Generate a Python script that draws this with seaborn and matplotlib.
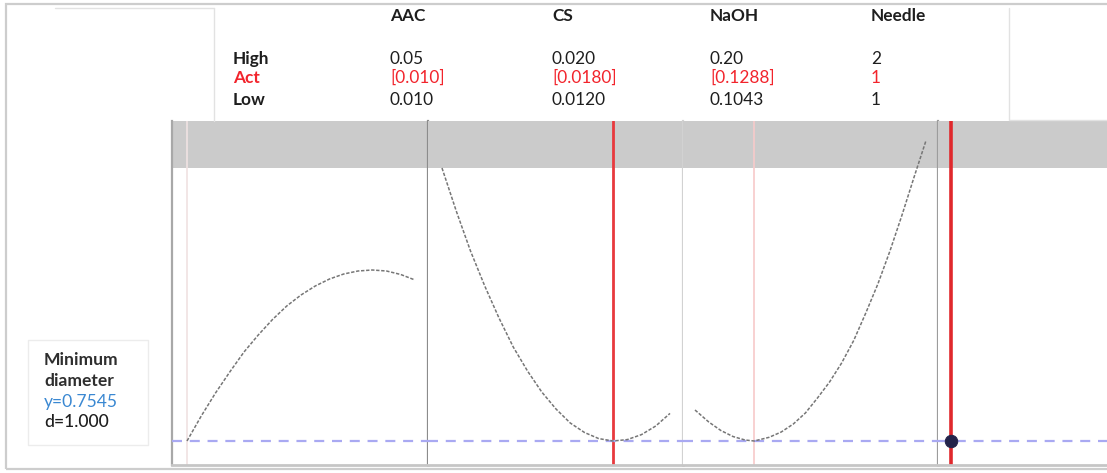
import numpy as np
import pandas as pd
import matplotlib
matplotlib.use("Agg")
import matplotlib.pyplot as plt
from matplotlib.patches import Rectangle
from matplotlib.lines import Line2D
import seaborn as sns

# ---------------- data ----------------
factors = ["AAC", "CS", "NaOH", "Needle"]
high_labels = ["0.05", "0.020", "0.20", "2"]
act_labels = ["[0.010]", "[0.0180]", "[0.1288]", "1"]
low_labels = ["0.010", "0.0120", "0.1043", "1"]
act_values = [0.010, 0.0180, 0.1288, 1]

response_name = ["Minimum", "diameter"]
y_opt = 0.7545
d_value = 1.000

aac_x = [0.010, 0.0125, 0.015, 0.0175, 0.020, 0.0225, 0.025, 0.0275, 0.030,
         0.0325, 0.035, 0.0375, 0.040, 0.0425, 0.045, 0.0475, 0.050]
aac_y = [0.7545, 0.8045, 0.8505, 0.8925, 0.9325, 0.9665, 0.9975, 1.0245, 1.0465,
         1.0645, 1.0785, 1.0885, 1.0945, 1.0965, 1.0945, 1.0875, 1.0765]

cs_x = [0.0120, 0.0125, 0.0130, 0.0135, 0.0140, 0.0145, 0.0150, 0.0155, 0.0160,
        0.0165, 0.0170, 0.0175, 0.0180, 0.0185, 0.0190, 0.0195, 0.0200]
cs_y = [1.3005, 1.2145, 1.1345, 1.0645, 1.0005, 0.9425, 0.8945, 0.8525, 0.8185,
        0.7905, 0.7715, 0.7593, 0.7545, 0.7573, 0.7673, 0.7845, 0.8097]

naoh_x = [0.1043, 0.110, 0.115, 0.120, 0.125, 0.1288, 0.135, 0.140, 0.145, 0.150,
          0.155, 0.160, 0.165, 0.170, 0.175, 0.180, 0.185, 0.190, 0.195, 0.200]
naoh_y = [0.8165, 0.7925, 0.7755, 0.7635, 0.7565, 0.7545, 0.7619, 0.7725, 0.7885, 0.8105,
          0.8405, 0.8725, 0.9105, 0.9555, 1.0105, 1.0685, 1.1345, 1.2065, 1.2825, 1.3565]

needle_x = [1]
needle_y = [0.7545]

# ---------------- style ----------------
sns.set_theme(style="white")
plt.rcParams["font.family"] = ["Lato", "DejaVu Sans"]

W, H = 1107, 473
fig = plt.figure(figsize=(W / 100, H / 100), dpi=100)
fig.patch.set_facecolor("white")


def fx(px):
    return px / W


def fy(py):
    return 1 - py / H


# panel geometry (pixels) and x-limits
panel_edges = [172, 428, 683, 938, 1193]
top_px, bot_px = 121, 465
xlims = [(0.007368, 0.052281), (0.011509, 0.020456), (0.099333, 0.204892), (0.9432, 2.0568)]
ylim = (0.7065, 1.3945)
band_lo = 1.3005

sep_colors = ["#8c8c8c", "#d2d2d2", "#9c9c9c", "#cccccc"]
act_line_styles = [
    dict(color="#f0e2e2", lw=1.2),
    dict(color="#e8393d", lw=2.0),
    dict(color="#f7caca", lw=1.2),
    dict(color="#e0282c", lw=2.6),
]

curves = [(aac_x, aac_y), (cs_x, cs_y), (naoh_x, naoh_y), None]

axes = []
for i in range(4):
    l, r = panel_edges[i], panel_edges[i + 1]
    ax = fig.add_axes([fx(l), fy(bot_px), (r - l) / W, (bot_px - top_px) / H])
    ax.set_xlim(*xlims[i])
    ax.set_ylim(*ylim)
    ax.set_facecolor("white")
    ax.axhspan(band_lo, ylim[1], color="#cbcbcb", lw=0, zorder=0)
    ax.axvline(act_values[i], zorder=2, **act_line_styles[i])
    ax.axhline(y_opt, color="#a9a9f2", lw=1.6, linestyle=(0, (4.5, 3.5)), zorder=3)
    if curves[i] is not None:
        cx, cy = curves[i]
        sns.lineplot(x=cx, y=cy, ax=ax, color="#767676", lw=1.1,
                     linestyle=(0, (2.2, 1.1)), zorder=4)
    ax.set_xticks([])
    ax.set_yticks([])
    for s in ["top", "left", "right", "bottom"]:
        ax.spines[s].set_visible(False)
    ax.spines["bottom"].set_visible(True)
    ax.spines["bottom"].set_color("#c6c6c6")
    ax.spines["bottom"].set_linewidth(2)
    ax.spines["right"].set_visible(True)
    ax.spines["right"].set_color(sep_colors[i])
    ax.spines["right"].set_linewidth(1.6)
    if i == 0:
        ax.spines["left"].set_visible(True)
        ax.spines["left"].set_color("#a8a8a8")
        ax.spines["left"].set_linewidth(1.6)
    axes.append(ax)

sns.scatterplot(x=needle_x, y=needle_y, ax=axes[3], color="#23234a", s=80,
                edgecolor="#23234a", zorder=6)

# ---------------- frame decorations ----------------
fig.patches.append(Rectangle((fx(6), fy(469)), fx(1130) - fx(6), fy(4) - fy(469),
                             transform=fig.transFigure, fill=False,
                             edgecolor="#cdcdcd", lw=1.6, zorder=0))
fig.lines.append(Line2D([fx(55), fx(214)], [fy(8), fy(8)], transform=fig.transFigure,
                        color="#e2e2e2", lw=1))
fig.lines.append(Line2D([fx(214), fx(214)], [fy(8), fy(121)], transform=fig.transFigure,
                        color="#e2e2e2", lw=1))
fig.lines.append(Line2D([fx(1009), fx(1009), fx(1107)], [fy(8), fy(120), fy(120)],
                        transform=fig.transFigure, color="#e2e2e2", lw=1))

# response box
fig.patches.append(Rectangle((fx(28), fy(445)), fx(148) - fx(28), fy(340) - fy(445),
                             transform=fig.transFigure, facecolor="white",
                             edgecolor="#ececec", lw=1, zorder=1))
fs_box = 12.6
fig.text(fx(44), fy(360), response_name[0], fontsize=fs_box, fontweight="bold",
         color="#2e2e2e", va="center", ha="left")
fig.text(fx(44), fy(381), response_name[1], fontsize=fs_box, fontweight="bold",
         color="#2e2e2e", va="center", ha="left")
fig.text(fx(44), fy(402), f"y={y_opt:.4f}", fontsize=fs_box, color="#3a88d2",
         va="center", ha="left")
fig.text(fx(44), fy(422), f"d={d_value:.3f}", fontsize=fs_box, color="#1e1e1e",
         fontweight="medium", va="center", ha="left")

# header table
fs_h = 12.4
col_x = [390, 552, 710, 871]
lab_x = 233
row_y = {"name": 16, "High": 59, "Act": 78, "Low": 100}
fig.text(fx(lab_x), fy(row_y["High"]), "High", fontsize=fs_h, fontweight="bold",
         color="#1e1e1e", va="center")
fig.text(fx(lab_x), fy(row_y["Act"]), "Act", fontsize=fs_h, fontweight="bold",
         color="#f2242c", va="center")
fig.text(fx(lab_x), fy(row_y["Low"]), "Low", fontsize=fs_h, fontweight="bold",
         color="#1e1e1e", va="center")
for i in range(4):
    fig.text(fx(col_x[i]), fy(row_y["name"]), factors[i], fontsize=fs_h,
             fontweight="bold", color="#1e1e1e", va="center")
    fig.text(fx(col_x[i]), fy(row_y["High"]), high_labels[i], fontsize=fs_h,
             color="#1e1e1e", va="center")
    fig.text(fx(col_x[i]), fy(row_y["Act"]), act_labels[i], fontsize=fs_h,
             color="#f2242c", va="center")
    fig.text(fx(col_x[i]), fy(row_y["Low"]), low_labels[i], fontsize=fs_h,
             color="#1e1e1e", va="center")

fig.savefig("out.png", dpi=100, facecolor="white")
